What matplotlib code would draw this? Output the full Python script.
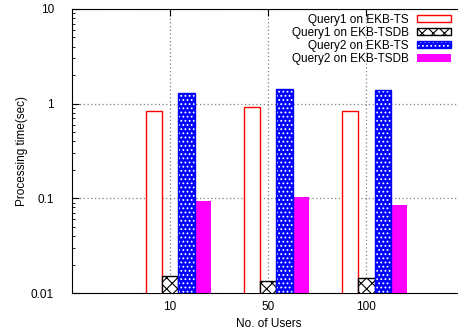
import numpy as np
import matplotlib
matplotlib.use("Agg")
import matplotlib.pyplot as plt
from matplotlib.legend_handler import HandlerTuple

# values
users = ["10", "50", "100"]
q1_ts = [0.84, 0.92, 0.84]
q1_tsdb = [0.0152, 0.0134, 0.0145]
q2_ts = [1.30, 1.43, 1.41]
q2_tsdb = [0.094, 0.103, 0.085]

plt.rcParams['font.family'] = ['Liberation Sans', 'DejaVu Sans']
plt.rcParams['font.size'] = 8.5
plt.rcParams['hatch.linewidth'] = 0.8

fig = plt.figure(figsize=(4.58, 3.33), dpi=100)
ax = fig.add_axes([0.1572, 0.1201, 0.857, 0.853])

x = np.arange(1, len(users) + 1)
w = 1 / 6

red = ax.bar(x - w, q1_ts, w, facecolor='white', edgecolor='red', linewidth=1, zorder=3)
blk = ax.bar(x, q1_tsdb, w, facecolor='white', edgecolor='black', hatch='xxx', linewidth=1, zorder=3)
blue = ax.bar(x + w, q2_ts, w, color='blue', linewidth=0, zorder=3)
blue_h = ax.bar(x + w, q2_ts, w, fill=False, edgecolor='white', hatch='....', linewidth=0, zorder=4)
blue_e = ax.bar(x + w, q2_ts, w, fill=False, edgecolor='blue', linewidth=1, zorder=5)
mag = ax.bar(x + 2 * w, q2_tsdb, w, color='magenta', linewidth=0, zorder=3)

ax.set_yscale('log')
ax.set_ylim(0.01, 10)
ax.set_xlim(0, 4)
ax.set_xticks(x)
ax.set_xticklabels(users)
ax.set_yticks([0.01, 0.1, 1, 10])
ax.set_yticklabels(["0.01", "0.1", "1", "10"])

ax.tick_params(axis='both', which='both', direction='in', top=True, right=True)
ax.tick_params(axis='y', which='major', length=5, pad=13)
ax.tick_params(axis='y', which='minor', length=2.5)
ax.tick_params(axis='x', which='major', length=5, pad=6)

ax.grid(True, which='major', linestyle=(0, (1, 2)), color='gray', linewidth=0.9, zorder=0)
ax.set_axisbelow(True)

ax.set_xlabel("No. of Users", labelpad=3)
ax.set_ylabel("Processing time(sec)", labelpad=2)

leg = ax.legend([red, blk, (blue, blue_h, blue_e), mag],
                ["Query1 on EKB-TS", "Query1 on EKB-TSDB", "Query2 on EKB-TS", "Query2 on EKB-TSDB"],
                handler_map={tuple: HandlerTuple(ndivide=1, pad=0)},
                loc='upper right', bbox_to_anchor=(0.9656, 0.984), borderaxespad=0, borderpad=0,
                frameon=False, markerfirst=False, handlelength=2.9, handleheight=0.6,
                handletextpad=0.7, labelspacing=0.1, fontsize=8.5)

plt.savefig('out.png', dpi=100)
